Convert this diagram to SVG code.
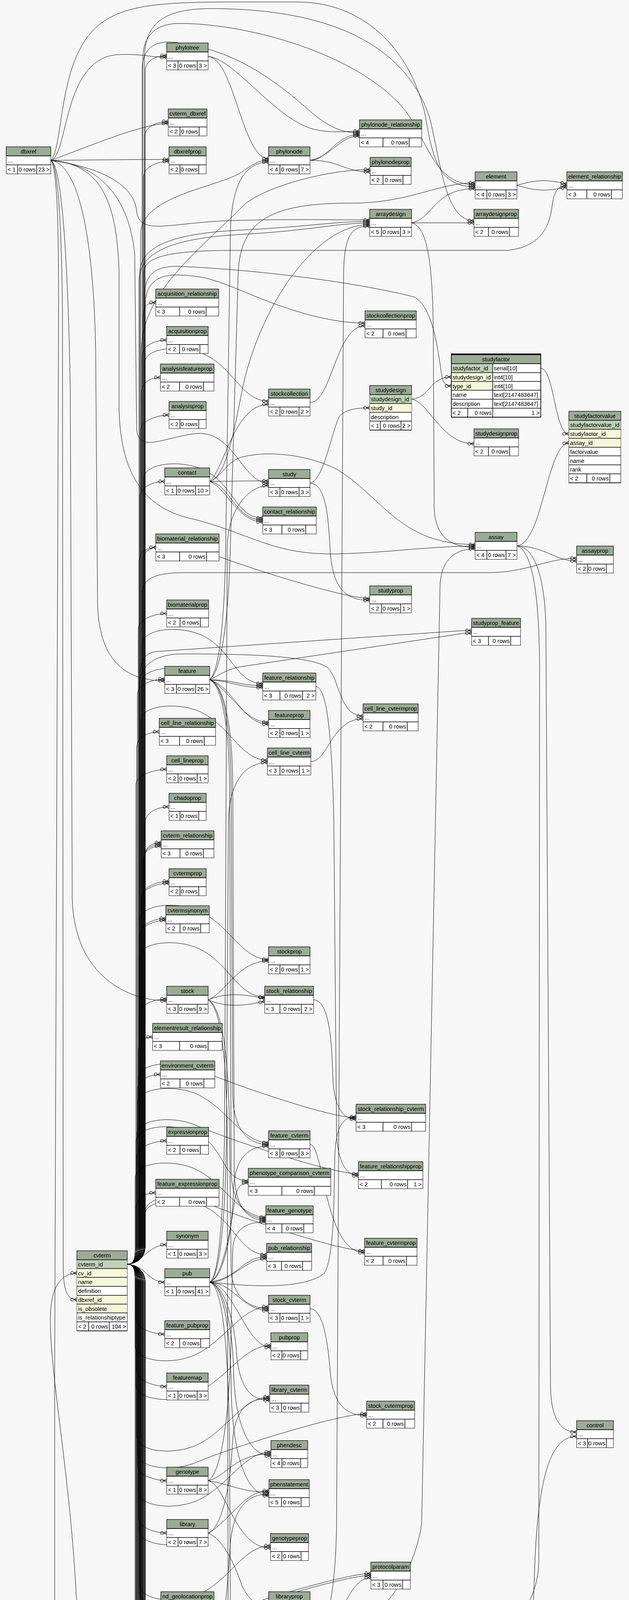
<svg xmlns="http://www.w3.org/2000/svg" width="1611" height="6103" viewBox="0 0 1611 6103">
<defs>
<style>
text{font-family:"Liberation Sans",Arial,Helvetica,sans-serif;font-size:14.67px;fill:#000}
.c{text-anchor:middle}
.r{text-anchor:end}
.w{fill:#fff;stroke:#000;stroke-width:1}
.h{fill:#9bab96;stroke:#000;stroke-width:1}
.pk{fill:#bed1b8}
.fk{fill:#f4f7da}
.t path{fill:none;stroke:#000;stroke-width:1.5}
.e path{fill:none;stroke:#000;stroke-width:1;marker-end:url(#cf)}
</style>
<marker id="cf" markerUnits="userSpaceOnUse" markerWidth="18" markerHeight="12" viewBox="0 0 18 12" refX="17" refY="6" orient="auto">
<circle cx="5" cy="6" r="3.8" fill="none" stroke="#000" stroke-width="1.2"/>
<path d="M9 6L17 1.5M9 6L17 6M9 6L17 10.5" fill="none" stroke="#000" stroke-width="1.2"/>
</marker>
</defs>
<rect width="1611" height="6103" fill="#f7f7f7"/>
<g id="connectors" class="e">
<path d="M326 3236C342 3236 372 3226 372 3190L372 182C372 154 402 142 427 142"/>
<path d="M326 3236C342 3236 370 3226 370 3190L370 351C370 323 406 311 431 311"/>
<path d="M326 3236C342 3236 368 3226 368 3190L368 453C368 425 408 413 433 413"/>
<path d="M326 3236C342 3236 366 3226 366 3190L366 814.5C366 786.5 374 774.5 399 774.5"/>
<path d="M326 3236C342 3236 364 3226 364 3190L364 910.5C364 882.5 402 870.5 427 870.5"/>
<path d="M326 3236C342 3236 362 3226 362 3190L362 1006.5C362 978.5 386 966.5 411 966.5"/>
<path d="M326 3236C342 3236 360 3226 360 3190L360 1102.5C360 1074.5 408 1062.5 433 1062.5"/>
<path d="M326 3236C342 3236 358 3226 358 3190L358 1272.5C358 1244.5 397 1232.5 422 1232.5"/>
<path d="M326 3236C342 3236 356 3226 356 3190L356 1441.5C356 1413.5 374 1401.5 399 1401.5"/>
<path d="M326 3236C342 3236 354 3226 354 3190L354 1610.5C354 1582.5 402 1570.5 427 1570.5"/>
<path d="M326 3236C342 3236 352 3226 352 3190L352 1778C352 1750 397 1738 422 1738"/>
<path d="M326 3236C342 3236 350 3226 350 3190L350 1913.5C350 1885.5 383 1873.5 408 1873.5"/>
<path d="M326 3236C342 3236 348 3226 348 3190L348 2009.5C348 1981.5 402 1969.5 427 1969.5"/>
<path d="M326 3236C342 3236 372 3226 372 3190L372 2105.5C372 2077.5 408 2065.5 433 2065.5"/>
<path d="M326 3236C342 3236 370 3226 370 3190L370 2197C370 2169 388 2157 413 2157"/>
<path d="M326 3236C342 3236 368 3226 368 3190L368 2201.5C368 2173.5 388 2161.5 413 2161.5"/>
<path d="M326 3236C342 3236 366 3226 366 3190L366 2206C366 2178 388 2166 413 2166"/>
<path d="M326 3236C342 3236 364 3226 364 3190L364 2296C364 2268 408 2256 433 2256"/>
<path d="M326 3236C342 3236 362 3226 362 3190L362 2301C362 2273 408 2261 433 2261"/>
<path d="M326 3236C342 3236 360 3226 360 3190L360 2391C360 2363 400 2351 425 2351"/>
<path d="M326 3236C342 3236 358 3226 358 3190L358 2396C358 2368 400 2356 425 2356"/>
<path d="M326 3236C342 3236 356 3226 356 3190L356 2597C356 2569 402 2557 427 2557"/>
<path d="M326 3236C342 3236 354 3226 354 3190L354 2694.5C354 2666.5 366 2654.5 391 2654.5"/>
<path d="M326 3236C342 3236 352 3226 352 3190L352 2790.5C352 2762.5 386 2750.5 411 2750.5"/>
<path d="M326 3236C342 3236 350 3226 350 3190L350 2960.5C350 2932.5 402 2920.5 427 2920.5"/>
<path d="M326 3236C342 3236 348 3226 348 3190L348 3093.5C348 3065.5 374 3053.5 399 3053.5"/>
<path d="M326 3236C360 3236 380 3186.5 427 3186.5"/>
<path d="M326 3237C370 3237 380 3282.5 422 3282.5"/>
<path d="M326 3237C342 3237 348 3247 348 3283L348 3375.5C348 3403.5 397 3415.5 422 3415.5"/>
<path d="M326 3237C342 3237 350 3247 350 3283L350 3509.5C350 3537.5 402 3549.5 427 3549.5"/>
<path d="M326 3237C342 3237 352 3247 352 3283L352 3750.5C352 3778.5 402 3790.5 427 3790.5"/>
<path d="M326 3237C342 3237 354 3247 354 3283L354 3884.5C354 3912.5 402 3924.5 427 3924.5"/>
<path d="M326 3237C342 3237 356 3247 356 3283L356 4069.5C356 4097.5 387 4109.5 412 4109.5"/>
<path d="M326 3237C342 3237 358 3247 358 3283L358 4196C358 4224 402 4236 427 4236"/>
<path d="M326 3237C342 3237 360 3247 360 3283L360 4201C360 4229 402 4241 427 4241"/>
<path d="M326 3237C342 3237 362 3247 362 3283L362 4211C362 4239 402 4251 427 4251"/>
<path d="M326 3237C342 3237 364 3247 364 3283L364 4408.5C364 4436.5 408 4448.5 433 4448.5"/>
<path d="M326 3237C342 3237 366 3247 366 3283L366 4574C366 4602 389 4614 414 4614"/>
<path d="M326 3237C342 3237 368 3247 368 3283L368 4581C368 4609 389 4621 414 4621"/>
<path d="M326 3237C342 3237 370 3247 370 3283L370 4890.5C370 4918.5 402 4930.5 427 4930.5"/>
<path d="M326 3237C342 3237 372 3247 372 3283L372 4986.5C372 5014.5 388 5026.5 413 5026.5"/>
<path d="M326 3237C342 3237 348 3247 348 3283L348 5082.5C348 5110.5 408 5122.5 433 5122.5"/>
<path d="M326 3237C342 3237 350 3247 350 3283L350 5216.5C350 5244.5 402 5256.5 427 5256.5"/>
<path d="M326 3237C342 3237 352 3247 352 3283L352 5349.5C352 5377.5 367 5389.5 392 5389.5"/>
<path d="M326 3237C342 3237 354 3247 354 3283L354 5445.5C354 5473.5 394 5485.5 419 5485.5"/>
<path d="M326 3237C342 3237 356 3247 356 3283L356 5578.5C356 5606.5 402 5618.5 427 5618.5"/>
<path d="M326 3237C342 3237 358 3247 358 3283L358 5674.5C358 5702.5 395 5714.5 420 5714.5"/>
<path d="M326 3237C342 3237 360 3247 360 3283L360 5873C360 5901 408 5913 433 5913"/>
<path d="M326 3237C342 3237 362 3247 362 3283L362 5877C362 5905 408 5917 433 5917"/>
<path d="M326 3237C342 3237 364 3247 364 3283L364 5885C364 5913 408 5925 433 5925"/>
<path d="M326 3237C342 3237 366 3247 366 3283L366 5974C366 6002 408 6014 433 6014"/>
<path d="M326 3236C342 3236 360 3226 360 3190L360 600C360 500 560 480 620 440C650 420 660 410.5 688 410.5"/>
<path d="M326 3236C342 3236 364 3226 364 3190L364 180C364 120 400 100 460 110C600 130 700 200 800 290C850 330 880 340 921 340"/>
<path d="M326 3236C342 3236 362 3226 362 3190L362 900C362 750 500 650 630 520C700 470 850 434 948 434"/>
<path d="M326 3236C342 3236 366 3226 366 3190L366 150C366 90 400 60 460 60C650 60 950 150 1050 300C1100 380 1120 473 1217 473"/>
<path d="M326 3236C342 3236 368 3226 368 3190L368 700C368 660 420 641 600 641L1300 641C1400 630 1410 560 1415 520C1420 490 1430 475 1452 475"/>
<path d="M326 3236C342 3236 358 3226 358 3190L358 700C358 640 420 600 600 590C800 580 850 567 947 567"/>
<path d="M326 3236C342 3236 356 3226 356 3190L356 720C356 650 430 610 620 600C800 590 860 571 947 571"/>
<path d="M326 3236C342 3236 370 3226 370 3190L370 150C370 60 420 22 540 22C900 22 1050 150 1100 300C1130 420 1140 565 1214 565"/>
<path d="M326 3236C342 3236 372 3226 372 3190L372 780C372 730 400 704 450 704C520 704 560 720 620 745C750 800 850 827 935 827"/>
<path d="M326 3236C342 3236 370 3226 370 3190L370 760C370 700 400 680 460 682C650 690 900 720 1060 760C1120 790 1125 950 1135 975C1140 985 1148 988 1156 988"/>
<path d="M326 3236C342 3236 364 3226 364 3190L364 1520C364 1480 400 1465 480 1466L1250 1466C1350 1466 1400 1429 1477 1429"/>
<path d="M326 3236C342 3236 358 3226 358 3190L358 1740C358 1690 370 1672 400 1668L1190 1614L1208 1614"/>
<path d="M326 3236C342 3236 356 3226 356 3190L356 1760C356 1700 400 1674 470 1674C650 1674 800 1680 840 1710C870 1740 870 1833 930 1833"/>
<path d="M326 3236C342 3236 370 3226 370 3190L370 930.5C370 890.5 460 880.5 520 905.5C600 940.5 618 1027 688 1027"/>
<path d="M326 3236C342 3236 368 3226 368 3190L368 1226C368 1186 458 1176 518 1201C598 1236 603 1326 673 1326"/>
<path d="M326 3236C342 3236 366 3226 366 3190L366 1432C366 1392 456 1382 516 1407C596 1442 877 1532 947 1532"/>
<path d="M326 3236C342 3236 364 3226 364 3190L364 1650C364 1610 454 1600 514 1625C594 1660 603 1750 673 1750"/>
<path d="M326 3236C342 3236 362 3226 362 3190L362 1749C362 1709 452 1699 512 1724C592 1759 618 1849 688 1849"/>
<path d="M326 3236C342 3236 360 3226 360 3190L360 1846C360 1806 450 1796 510 1821C590 1856 615 1946 685 1946"/>
<path d="M326 3236C342 3236 358 3226 358 3190L358 2356C358 2316 448 2306 508 2331C588 2366 618 2456 688 2456"/>
<path d="M326 3236C342 3236 356 3226 356 3190L356 2452C356 2412 446 2402 506 2427C586 2462 608 2552 678 2552"/>
<path d="M326 3236C342 3236 354 3226 354 3190L354 2761.5C354 2721.5 444 2711.5 504 2736.5C584 2771.5 842 2861.5 912 2861.5"/>
<path d="M326 3236C342 3236 352 3226 352 3190L352 2825C352 2785 442 2775 502 2800C582 2835 618 2925 688 2925"/>
<path d="M326 3236C342 3236 350 3226 350 3190L350 2905C350 2865 440 2855 500 2880C580 2915 848 3005 918 3005"/>
<path d="M326 3236C342 3236 348 3226 348 3190L348 2923C348 2883 438 2873 498 2898C578 2933 566 3023 636 3023"/>
<path d="M326 3236C342 3236 346 3226 346 3190L346 3016C346 2976 436 2966 496 2991C576 3026 611 3116 681 3116"/>
<path d="M326 3236C342 3236 372 3226 372 3190L372 3102C372 3062 462 3052 522 3077C602 3112 864 3202 934 3202"/>
<path d="M326 3236C342 3236 370 3226 370 3190L370 3112C370 3072 460 3062 520 3087C600 3122 613 3212 683 3212"/>
<path d="M326 3237C342 3237 346 3247 346 3283L346 3445C346 3485 436 3495 496 3470C576 3435 618 3345 688 3345"/>
<path d="M326 3237C342 3237 348 3247 348 3283L348 3544C348 3584 438 3594 498 3569C578 3534 624 3444 694 3444"/>
<path d="M326 3237C342 3237 350 3247 350 3283L350 3676C350 3716 440 3726 500 3701C580 3666 621 3576 691 3576"/>
<path d="M326 3237C342 3237 352 3247 352 3283L352 3719C352 3759 442 3769 502 3744C582 3709 869 3619 939 3619"/>
<path d="M326 3237C342 3237 354 3247 354 3283L354 3817C354 3857 444 3867 504 3842C584 3807 624 3717 694 3717"/>
<path d="M326 3237C342 3237 356 3247 356 3283L356 3916C356 3956 446 3966 506 3941C586 3906 619 3816 689 3816"/>
<path d="M326 3237C342 3237 358 3247 358 3283L358 4057C358 4097 448 4107 508 4082C588 4047 623 3957 693 3957"/>
<path d="M326 3237C342 3237 360 3247 360 3283L360 4128C360 4168 450 4178 510 4153C590 4118 880 4028 950 4028"/>
<path d="M326 3237C342 3237 362 3247 362 3283L362 4133C362 4173 452 4183 512 4158C592 4123 880 4033 950 4033"/>
<path d="M326 3237C342 3237 364 3247 364 3283L364 4206C364 4246 454 4256 514 4231C594 4196 618 4106 688 4106"/>
<path d="M326 3237C342 3237 366 3247 366 3283L366 4300C366 4340 456 4350 516 4325C596 4290 618 4200 688 4200"/>
<path d="M326 3237C342 3237 368 3247 368 3283L368 4405C368 4445 458 4455 518 4430C598 4395 607 4305 677 4305"/>
<path d="M326 3237C342 3237 370 3247 370 3283L370 4720C370 4760 460 4770 520 4745C600 4710 591 4620 661 4620"/>
<path d="M326 3237C342 3237 372 3247 372 3283L372 4790C372 4830 462 4840 522 4815C602 4780 877 4690 947 4690"/>
<path d="M326 3237C342 3237 346 3247 346 3283L346 4857C346 4897 436 4907 496 4882C576 4847 597 4757 667 4757"/>
<path d="M326 3237C342 3237 348 3247 348 3283L348 4875C348 4915 438 4925 498 4900C578 4865 1126 4775 1196 4775"/>
<path d="M326 3237C342 3237 350 3247 350 3283L350 4891C350 4931 440 4941 500 4916C580 4881 842 4791 912 4791"/>
<path d="M326 3237C342 3237 352 3247 352 3283L352 5127C352 5167 442 5177 502 5152C582 5117 603 5027 673 5027"/>
<path d="M326 3237C342 3237 354 3247 354 3283L354 5321C354 5361 444 5371 504 5346C584 5311 600 5221 670 5221"/>
<path d="M326 3237C342 3237 356 3247 356 3283L356 5419C356 5459 446 5469 506 5444C586 5409 615 5319 685 5319"/>
<path d="M326 3237C342 3237 358 3247 358 3283L358 5712C358 5752 448 5762 508 5737C588 5702 588 5612 658 5612"/>
<path d="M326 3237C342 3237 360 3247 360 3283L360 5848C360 5888 450 5898 510 5873C590 5838 616 5748 686 5748"/>
<path d="M326 3237C342 3237 372 3247 372 3283L372 5780C372 5840 420 5870 500 5868C600 5865 680 5853 760 5853L1000 5853C1200 5853 1290 5700 1320 5300L1370 4000C1380 3750 1420 3677 1477 3677"/>
<path d="M130 410.5C175 400 160 150 300 140C360 137 390 147 427 147"/>
<path d="M130 410.5C190 390 360 316 431 316"/>
<path d="M130 410.5C200 410 360 408 433 408"/>
<path d="M130 410.5C160 380 150 200 220 100C280 15 380 5 600 5L760 5C950 5 1060 150 1090 300C1110 420 1130 478 1217 478"/>
<path d="M130 410.5C200 420 340 450 350 540C356 600 420 575 560 566C700 560 850 563 947 563"/>
<path d="M130 410.5C250 420 330 500 345 650L350 1100C355 1160 420 1120 500 1110C600 1100 620 1237 688 1237"/>
<path d="M130 410.5C250 420 300 500 305 700L305 1050C310 1250 400 1310 500 1330C650 1370 700 1420 860 1418C1000 1415 1100 1398 1217 1398"/>
<path d="M130 410.5C200 420 240 600 245 900L250 1550C255 1700 330 1743 422 1743"/>
<path d="M130 410.5C160 420 175 700 180 1000L185 2300C190 2500 330 2562 427 2562"/>
<path d="M130 410.5C150 420 158 600 160 800L162 3250C163 3310 175 3327 197 3327"/>
<path d="M130 410.5C148 430 150 600 150 800L140 3500L140 4100C140 4300 300 4330 450 4330C560 4330 600 4205 688 4205"/>
<path d="M121 5920C170 5910 205 5750 208 5500L200 4200C190 3800 120 3500 130 3350C135 3290 160 3259 197 3259"/>
<path d="M121 5920L433 5921"/>
<path d="M121 5920C200 5930 280 6000 360 6015C390 6019 410 6019 433 6019"/>
<path d="M533 144.5C600 150 620 406 688 406"/>
<path d="M533 144.5C600 150 700 300 800 330C850 342 880 336 921 336"/>
<path d="M794 410.5C840 410 860 344 921 344"/>
<path d="M794 410.5C850 400 870 348 921 348"/>
<path d="M794 410.5C870 410 880 440 948 440"/>
<path d="M537 1740.5C560 1720 575 1600 578 1400L590 600C592 450 640 415 688 415"/>
<path d="M537 1740.5C565 1720 585 1600 590 1400L610 700C615 560 700 520 900 520C1050 520 1120 468 1217 468"/>
<path d="M537 1740.5C560 1730 580 1712 622 1706L1190 1621L1208 1621"/>
<path d="M537 1740.5C600 1740 610 1755 673 1755"/>
<path d="M537 1740.5C600 1745 610 1760 673 1760"/>
<path d="M537 1740.5C600 1760 620 1854 688 1854"/>
<path d="M537 1740.5C570 1750 590 1850 592 2000L596 2800C598 2900 640 2930 688 2930"/>
<path d="M537 1740.5C568 1752 586 1860 588 2000L592 3000C594 3090 640 3120 681 3120"/>
<path d="M537 1740.5C572 1748 594 1850 596 2000L600 3000C602 3100 640 3124 681 3124"/>
<path d="M537 1232.5C600 1232 620 1231 688 1231"/>
<path d="M537 1232.5C590 1240 600 1331 673 1331"/>
<path d="M537 1232.5C580 1250 610 1336 673 1336"/>
<path d="M537 1232.5C570 1220 580 1180 620 1170C700 1150 800 1170 860 1200C980 1270 1020 1394 1217 1394"/>
<path d="M537 1232.5C580 1220 600 1100 620 1000C660 800 800 575 947 575"/>
<path d="M537 1232.5C575 1200 600 1035 688 1035"/>
<path d="M794 1030.5C850 1030 860 834 935 834"/>
<path d="M1054 1021.5C1100 1020 1100 965 1156 965"/>
<path d="M1054 1021.5C1100 1030 1130 1136 1214 1136"/>
<path d="M794 1236.5C830 1230 850 1100 870 1065C885 1048 915 1044 947 1044"/>
<path d="M794 1236.5C830 1240 840 1300 845 1400C850 1500 880 1537 947 1537"/>
<path d="M1385 942.5C1420 945 1420 1110.5 1457 1110.5"/>
<path d="M1324 1397.5C1390 1390 1400 1140 1457 1133.5"/>
<path d="M1324 1397.5C1400 1400 1420 1436 1477 1436"/>
<path d="M1324 1397.5C1370 1400 1395 1480 1398 1600L1410 3550C1412 3640 1440 3666 1477 3666"/>
<path d="M1324 1397.5C1360 1410 1380 1500 1382 1700L1380 4000C1375 4150 1250 4255 1000 4255L620 4258C560 4262 550 4360 470 4360C400 4360 400 4246 427 4246"/>
<path d="M1054 570.5C1110 560 1110 483 1217 483"/>
<path d="M1054 570.5L1214 570.5"/>
<path d="M1054 570.5C1100 580 1110 700 1110 900L1112 1300C1115 1380 1160 1401 1217 1401"/>
<path d="M794 4205.5C900 4205 1050 4100 1080 3900L1127 1500C1130 1420 1180 1405 1217 1405"/>
<path d="M794 4205.5C830 4200 860 4100 862 3900L880 700C882 600 900 579 947 579"/>
<path d="M794 4205.5C870 4205 880 4039 950 4039"/>
<path d="M794 4205.5C830 4210 850 4300 860 4500C865 4650 900 4697 947 4697"/>
<path d="M1054 4693.5C1100 4700 1110 4781 1196 4781"/>
<path d="M809 1757.5C840 1760 850 1900 855 2100L862 2900C865 2980 890 3010 918 3010"/>
<path d="M796 1949.5C840 1950 850 1840 930 1840"/>
<path d="M794 2929.5C830 2930 830 3207 934 3207"/>
<path d="M533 2559.5C580 2540 630 2545 678 2557"/>
<path d="M533 2559.5C580 2580 630 2575 678 2563"/>
<path d="M533 2559.5C580 2540 610 2460 688 2460"/>
<path d="M533 2559.5C570 2580 585 2700 588 2900L592 3250C594 3320 640 3350 688 3350"/>
<path d="M533 2559.5C565 2580 580 2700 582 2900L585 4600C587 4700 620 4766 667 4766"/>
<path d="M803 2559.5C840 2560 850 2650 852 2750C855 2840 880 2865 912 2865"/>
<path d="M794 3350.5C830 3350 840 3450 845 3500C850 3600 890 3624 939 3624"/>
<path d="M537 3282.5C600 3282 620 3217 683 3217"/>
<path d="M537 3282.5C610 3270 630 3222 683 3222"/>
<path d="M537 3282.5C600 3290 630 3449 694 3449"/>
<path d="M537 3282.5C600 3285 620 3355 688 3355"/>
<path d="M537 3282.5C580 3290 600 3400 605 3450C610 3550 640 3585 691 3585"/>
<path d="M537 3282.5C575 3290 595 3400 598 3500C600 3650 640 3727 694 3727"/>
<path d="M537 3282.5C572 3290 590 3400 592 3550C595 3750 640 3829 689 3829"/>
<path d="M537 3282.5C570 3290 585 3450 588 3700L590 4100C592 4180 640 4210 688 4210"/>
<path d="M537 3282.5C575 3270 595 3150 598 3050C600 2960 640 2934 688 2934"/>
<path d="M537 3282.5C570 3270 590 3150 600 3080C606 3040 615 3028 636 3028"/>
<path d="M537 3282.5C650 3295 780 3300 830 3260C860 3220 855 3000 858 2950C862 2880 880 2859 912 2859"/>
<path d="M537 3282.5C565 3270 578 3100 580 2900L585 2100C587 2000 630 1952 685 1952"/>
<path d="M537 3282.5C562 3270 572 3100 575 2900L582 1400C584 1300 640 1243 688 1243"/>
<path d="M533 3790.5C580 3780 600 3722 694 3722"/>
<path d="M533 3790.5C590 3800 620 3820 689 3820"/>
<path d="M533 3790.5C570 3770 590 3600 592 3400L596 3200C598 3140 640 3128 681 3128"/>
<path d="M533 3790.5C580 3800 600 3963 693 3963"/>
<path d="M533 4242.5C570 4240 580 4100 590 3950C600 3850 640 3825 689 3825"/>
<path d="M533 4242.5C580 4245 610 4311 677 4311"/>
<path d="M533 3924.5C570 3910 590 3800 595 3700C600 3600 640 3580 691 3580"/>
<path d="M533 3924.5C570 3940 600 4000 620 4060C640 4100 660 4112 688 4112"/>
<path d="M545 4617.5C600 4618 610 4626 661 4626"/>
<path d="M533 4930.5C570 4900 590 4800 610 4775C630 4762 645 4762 667 4762"/>
<path d="M533 4930.5C570 4940 600 5000 620 5020C640 5030 650 5032 673 5032"/>
<path d="M814 4761.5C850 4765 860 4796 912 4796"/>
<path d="M533 5256.5C580 5250 610 5226 670 5226"/>
<path d="M533 5256.5C580 5265 610 5324 685 5324"/>
<path d="M533 5618.5C580 5600 620 5605 658 5617"/>
<path d="M533 5618.5C580 5635 620 5630 658 5622"/>
<path d="M533 5618.5C580 5640 620 5753 686 5753"/>
<path d="M533 5618.5C570 5600 590 5500 595 5400C600 5300 630 5231 670 5231"/>
<path d="M1324 474.5C1380 458 1400 460 1452 471"/>
<path d="M1324 474.5C1380 491 1400 489 1452 479"/>
</g>
<g id="dbxref" class="t" transform="translate(16 376)"><rect class="w" width="114" height="69"/><rect class="h" width="114" height="23"/><path d="M0 23H114M0 46H114M29 46V69M78 46V69"/><text class="c" x="57" y="17">dbxref</text><text x="4" y="40">...</text><text x="3" y="63">&lt; 1</text><text class="r" x="75" y="63">0 rows</text><text class="r" x="111" y="63">23 &gt;</text></g>
<g id="phylotree" class="t" transform="translate(427 110)"><rect class="w" width="106" height="69"/><rect class="h" width="106" height="23"/><path d="M0 23H106M0 46H106M29 46V69M78 46V69"/><text class="c" x="53" y="17">phylotree</text><text x="4" y="40">...</text><text x="3" y="63">&lt; 3</text><text class="r" x="75" y="63">0 rows</text><text class="r" x="103" y="63">3 &gt;</text></g>
<g id="cvterm_dbxref" class="t" transform="translate(431 279)"><rect class="w" width="99" height="69"/><rect class="h" width="99" height="23"/><path d="M0 23H99M0 46H99M30 46V69M79 46V69"/><text class="c" x="49.5" y="17">cvterm_dbxref</text><text x="4" y="40">...</text><text x="3" y="63">&lt; 2</text><text class="r" x="76" y="63">0 rows</text></g>
<g id="dbxrefprop" class="t" transform="translate(433 376)"><rect class="w" width="95" height="69"/><rect class="h" width="95" height="23"/><path d="M0 23H95M0 46H95M28 46V69M76 46V69"/><text class="c" x="47.5" y="17">dbxrefprop</text><text x="4" y="40">...</text><text x="3" y="63">&lt; 2</text><text class="r" x="73" y="63">0 rows</text></g>
<g id="phylonode" class="t" transform="translate(688 376)"><rect class="w" width="106" height="69"/><rect class="h" width="106" height="23"/><path d="M0 23H106M0 46H106M29 46V69M78 46V69"/><text class="c" x="53" y="17">phylonode</text><text x="4" y="40">...</text><text x="3" y="63">&lt; 4</text><text class="r" x="75" y="63">0 rows</text><text class="r" x="103" y="63">7 &gt;</text></g>
<g id="phylonode_relationship" class="t" transform="translate(921 307)"><rect class="w" width="159" height="69"/><rect class="h" width="159" height="23"/><path d="M0 23H159M0 46H159M60 46V69M127 46V69"/><text class="c" x="79.5" y="17">phylonode_relationship</text><text x="4" y="40">...</text><text x="3" y="63">&lt; 4</text><text class="r" x="124" y="63">0 rows</text></g>
<g id="phylonodeprop" class="t" transform="translate(948 403)"><rect class="w" width="105" height="69"/><rect class="h" width="105" height="23"/><path d="M0 23H105M0 46H105M33 46V69M84 46V69"/><text class="c" x="52.5" y="17">phylonodeprop</text><text x="4" y="40">...</text><text x="3" y="63">&lt; 2</text><text class="r" x="81" y="63">0 rows</text></g>
<g id="element" class="t" transform="translate(1217 440)"><rect class="w" width="107" height="69"/><rect class="h" width="107" height="23"/><path d="M0 23H107M0 46H107M30 46V69M79 46V69"/><text class="c" x="53.5" y="17">element</text><text x="4" y="40">...</text><text x="3" y="63">&lt; 4</text><text class="r" x="76" y="63">0 rows</text><text class="r" x="104" y="63">3 &gt;</text></g>
<g id="element_relationship" class="t" transform="translate(1452 440)"><rect class="w" width="142" height="69"/><rect class="h" width="142" height="23"/><path d="M0 23H142M0 46H142M51 46V69M114 46V69"/><text class="c" x="71" y="17">element_relationship</text><text x="4" y="40">...</text><text x="3" y="63">&lt; 3</text><text class="r" x="111" y="63">0 rows</text></g>
<g id="arraydesign" class="t" transform="translate(947 536)"><rect class="w" width="107" height="69"/><rect class="h" width="107" height="23"/><path d="M0 23H107M0 46H107M30 46V69M79 46V69"/><text class="c" x="53.5" y="17">arraydesign</text><text x="4" y="40">...</text><text x="3" y="63">&lt; 5</text><text class="r" x="76" y="63">0 rows</text><text class="r" x="104" y="63">3 &gt;</text></g>
<g id="arraydesignprop" class="t" transform="translate(1214 536)"><rect class="w" width="114" height="69"/><rect class="h" width="114" height="23"/><path d="M0 23H114M0 46H114M37 46V69M91 46V69"/><text class="c" x="57" y="17">arraydesignprop</text><text x="4" y="40">...</text><text x="3" y="63">&lt; 2</text><text class="r" x="88" y="63">0 rows</text></g>
<g id="acquisition_relationship" class="t" transform="translate(399 740)"><rect class="w" width="161" height="69"/><rect class="h" width="161" height="23"/><path d="M0 23H161M0 46H161M61 46V69M129 46V69"/><text class="c" x="80.5" y="17">acquisition_relationship</text><text x="4" y="40">...</text><text x="3" y="63">&lt; 3</text><text class="r" x="126" y="63">0 rows</text></g>
<g id="stockcollectionprop" class="t" transform="translate(935 796)"><rect class="w" width="131" height="69"/><rect class="h" width="131" height="23"/><path d="M0 23H131M0 46H131M46 46V69M105 46V69"/><text class="c" x="65.5" y="17">stockcollectionprop</text><text x="4" y="40">...</text><text x="3" y="63">&lt; 2</text><text class="r" x="102" y="63">0 rows</text></g>
<g id="acquisitionprop" class="t" transform="translate(427 836)"><rect class="w" width="106" height="69"/><rect class="h" width="106" height="23"/><path d="M0 23H106M0 46H106M33 46V69M85 46V69"/><text class="c" x="53" y="17">acquisitionprop</text><text x="4" y="40">...</text><text x="3" y="63">&lt; 2</text><text class="r" x="82" y="63">0 rows</text></g>
<g id="analysisfeatureprop" class="t" transform="translate(411 932)"><rect class="w" width="137" height="69"/><rect class="h" width="137" height="23"/><path d="M0 23H137M0 46H137M49 46V69M110 46V69"/><text class="c" x="68.5" y="17">analysisfeatureprop</text><text x="4" y="40">...</text><text x="3" y="63">&lt; 2</text><text class="r" x="107" y="63">0 rows</text></g>
<g id="studyfactor" class="t" transform="translate(1156 906)"><rect class="w" width="229" height="162" stroke-width="2"/><rect class="h" width="229" height="25"/><rect class="pk" x="0.5" y="25" width="105.5" height="23"/><rect class="fk" x="0.5" y="48" width="105.5" height="45"/><path d="M0 25H229M0 48H229M0 70.5H229M0 93H229M0 116H229M0 139H229M106 25V139M42 139V162M106 139V162M0 162H229"/><path d="M0 1.5H229" style="stroke-width:3"/><rect width="229" height="162" fill="none" stroke="#000" stroke-width="1.5"/><text class="c" x="114.5" y="19">studyfactor</text><text x="3" y="42">studyfactor_id</text><text x="109" y="42">serial[10]</text><text x="3" y="65">studydesign_id</text><text x="109" y="65">int4[10]</text><text x="3" y="87.5">type_id</text><text x="109" y="87.5">int4[10]</text><text x="3" y="110">name</text><text x="109" y="110">text[2147483647]</text><text x="3" y="133">description</text><text x="109" y="133">text[2147483647]</text><text x="3" y="156">&lt; 2</text><text class="r" x="103" y="156">0 rows</text><text class="r" x="226" y="156">1 &gt;</text></g>
<g id="stockcollection" class="t" transform="translate(688 996)"><rect class="w" width="106" height="69"/><rect class="h" width="106" height="23"/><path d="M0 23H106M0 46H106M29 46V69M78 46V69"/><text class="c" x="53" y="17">stockcollection</text><text x="4" y="40">...</text><text x="3" y="63">&lt; 2</text><text class="r" x="75" y="63">0 rows</text><text class="r" x="103" y="63">2 &gt;</text></g>
<g id="studydesign" class="t" transform="translate(947 987)"><rect class="w" width="107" height="114"/><rect class="h" width="107" height="23"/><rect class="pk" x="0.5" y="23" width="106" height="23"/><rect class="fk" x="0.5" y="46" width="106" height="22.5"/><path d="M0 23H107M0 46H107M0 68.5H107M0 91H107M27 91V114M80 91V114M0 114H107"/><text class="c" x="53.5" y="17">studydesign</text><text x="3" y="40">studydesign_id</text><text x="3" y="63">study_id</text><text x="3" y="85.5">description</text><text x="3" y="108">&lt; 1</text><text class="r" x="77" y="108">0 rows</text><text class="r" x="104" y="108">2 &gt;</text></g>
<g id="analysisprop" class="t" transform="translate(433 1028)"><rect class="w" width="95" height="69"/><rect class="h" width="95" height="23"/><path d="M0 23H95M0 46H95M28 46V69M76 46V69"/><text class="c" x="47.5" y="17">analysisprop</text><text x="4" y="40">...</text><text x="3" y="63">&lt; 2</text><text class="r" x="73" y="63">0 rows</text></g>
<g id="studyfactorvalue" class="t" transform="translate(1457 1053)"><rect class="w" width="133" height="183"/><rect class="h" width="133" height="23"/><rect class="pk" x="0.5" y="23" width="132" height="23"/><rect class="fk" x="0.5" y="46" width="132" height="46"/><path d="M0 23H133M0 46H133M0 69H133M0 92H133M0 114H133M0 137H133M0 160H133M46 160V183M105 160V183M0 183H133"/><text class="c" x="66.5" y="17">studyfactorvalue</text><text x="3" y="40">studyfactorvalue_id</text><text x="3" y="63">studyfactor_id</text><text x="3" y="86">assay_id</text><text x="3" y="108.5">factorvalue</text><text x="3" y="131.5">name</text><text x="3" y="154">rank</text><text x="3" y="177">&lt; 2</text><text class="r" x="102" y="177">0 rows</text></g>
<g id="studydesignprop" class="t" transform="translate(1214 1098)"><rect class="w" width="114" height="69"/><rect class="h" width="114" height="23"/><path d="M0 23H114M0 46H114M37 46V69M91 46V69"/><text class="c" x="57" y="17">studydesignprop</text><text x="4" y="40">...</text><text x="3" y="63">&lt; 2</text><text class="r" x="88" y="63">0 rows</text></g>
<g id="contact" class="t" transform="translate(422 1198)"><rect class="w" width="115" height="69"/><rect class="h" width="115" height="23"/><path d="M0 23H115M0 46H115M30 46V69M79 46V69"/><text class="c" x="57.5" y="17">contact</text><text x="4" y="40">...</text><text x="3" y="63">&lt; 1</text><text class="r" x="76" y="63">0 rows</text><text class="r" x="112" y="63">10 &gt;</text></g>
<g id="study" class="t" transform="translate(688 1202)"><rect class="w" width="106" height="69"/><rect class="h" width="106" height="23"/><path d="M0 23H106M0 46H106M29 46V69M78 46V69"/><text class="c" x="53" y="17">study</text><text x="4" y="40">...</text><text x="3" y="63">&lt; 3</text><text class="r" x="75" y="63">0 rows</text><text class="r" x="103" y="63">3 &gt;</text></g>
<g id="contact_relationship" class="t" transform="translate(673 1298)"><rect class="w" width="137" height="69"/><rect class="h" width="137" height="23"/><path d="M0 23H137M0 46H137M49 46V69M110 46V69"/><text class="c" x="68.5" y="17">contact_relationship</text><text x="4" y="40">...</text><text x="3" y="63">&lt; 3</text><text class="r" x="107" y="63">0 rows</text></g>
<g id="assay" class="t" transform="translate(1217 1363)"><rect class="w" width="107" height="69"/><rect class="h" width="107" height="23"/><path d="M0 23H107M0 46H107M30 46V69M79 46V69"/><text class="c" x="53.5" y="17">assay</text><text x="4" y="40">...</text><text x="3" y="63">&lt; 4</text><text class="r" x="76" y="63">0 rows</text><text class="r" x="104" y="63">7 &gt;</text></g>
<g id="biomaterial_relationship" class="t" transform="translate(399 1367)"><rect class="w" width="162" height="69"/><rect class="h" width="162" height="23"/><path d="M0 23H162M0 46H162M61 46V69M130 46V69"/><text class="c" x="81" y="17">biomaterial_relationship</text><text x="4" y="40">...</text><text x="3" y="63">&lt; 3</text><text class="r" x="127" y="63">0 rows</text></g>
<g id="assayprop" class="t" transform="translate(1477 1398)"><rect class="w" width="94" height="69"/><rect class="h" width="94" height="23"/><path d="M0 23H94M0 46H94M28 46V69M76 46V69"/><text class="c" x="47" y="17">assayprop</text><text x="4" y="40">...</text><text x="3" y="63">&lt; 2</text><text class="r" x="73" y="63">0 rows</text></g>
<g id="studyprop" class="t" transform="translate(947 1500)"><rect class="w" width="107" height="69"/><rect class="h" width="107" height="23"/><path d="M0 23H107M0 46H107M30 46V69M79 46V69"/><text class="c" x="53.5" y="17">studyprop</text><text x="4" y="40">...</text><text x="3" y="63">&lt; 2</text><text class="r" x="76" y="63">0 rows</text><text class="r" x="104" y="63">1 &gt;</text></g>
<g id="biomaterialprop" class="t" transform="translate(427 1536)"><rect class="w" width="107" height="69"/><rect class="h" width="107" height="23"/><path d="M0 23H107M0 46H107M34 46V69M86 46V69"/><text class="c" x="53.5" y="17">biomaterialprop</text><text x="4" y="40">...</text><text x="3" y="63">&lt; 2</text><text class="r" x="83" y="63">0 rows</text></g>
<g id="studyprop_feature" class="t" transform="translate(1208 1583)"><rect class="w" width="125" height="69"/><rect class="h" width="125" height="23"/><path d="M0 23H125M0 46H125M43 46V69M100 46V69"/><text class="c" x="62.5" y="17">studyprop_feature</text><text x="4" y="40">...</text><text x="3" y="63">&lt; 3</text><text class="r" x="97" y="63">0 rows</text></g>
<g id="feature" class="t" transform="translate(422 1706)"><rect class="w" width="115" height="69"/><rect class="h" width="115" height="23"/><path d="M0 23H115M0 46H115M30 46V69M79 46V69"/><text class="c" x="57.5" y="17">feature</text><text x="4" y="40">...</text><text x="3" y="63">&lt; 3</text><text class="r" x="76" y="63">0 rows</text><text class="r" x="112" y="63">26 &gt;</text></g>
<g id="feature_relationship" class="t" transform="translate(673 1723)"><rect class="w" width="136" height="69"/><rect class="h" width="136" height="23"/><path d="M0 23H136M0 46H136M44 46V69M102 46V69"/><text class="c" x="68" y="17">feature_relationship</text><text x="4" y="40">...</text><text x="3" y="63">&lt; 3</text><text class="r" x="99" y="63">0 rows</text><text class="r" x="133" y="63">2 &gt;</text></g>
<g id="cell_line_cvtermprop" class="t" transform="translate(930 1802)"><rect class="w" width="141" height="69"/><rect class="h" width="141" height="23"/><path d="M0 23H141M0 46H141M51 46V69M113 46V69"/><text class="c" x="70.5" y="17">cell_line_cvtermprop</text><text x="4" y="40">...</text><text x="3" y="63">&lt; 2</text><text class="r" x="110" y="63">0 rows</text></g>
<g id="featureprop" class="t" transform="translate(688 1819)"><rect class="w" width="106" height="69"/><rect class="h" width="106" height="23"/><path d="M0 23H106M0 46H106M29 46V69M78 46V69"/><text class="c" x="53" y="17">featureprop</text><text x="4" y="40">...</text><text x="3" y="63">&lt; 2</text><text class="r" x="75" y="63">0 rows</text><text class="r" x="103" y="63">1 &gt;</text></g>
<g id="cell_line_relationship" class="t" transform="translate(408 1839)"><rect class="w" width="144" height="69"/><rect class="h" width="144" height="23"/><path d="M0 23H144M0 46H144M52 46V69M115 46V69"/><text class="c" x="72" y="17">cell_line_relationship</text><text x="4" y="40">...</text><text x="3" y="63">&lt; 3</text><text class="r" x="112" y="63">0 rows</text></g>
<g id="cell_line_cvterm" class="t" transform="translate(685 1915)"><rect class="w" width="111" height="69"/><rect class="h" width="111" height="23"/><path d="M0 23H111M0 46H111M32 46V69M82 46V69"/><text class="c" x="55.5" y="17">cell_line_cvterm</text><text x="4" y="40">...</text><text x="3" y="63">&lt; 3</text><text class="r" x="79" y="63">0 rows</text><text class="r" x="108" y="63">1 &gt;</text></g>
<g id="cell_lineprop" class="t" transform="translate(427 1935)"><rect class="w" width="106" height="69"/><rect class="h" width="106" height="23"/><path d="M0 23H106M0 46H106M29 46V69M78 46V69"/><text class="c" x="53" y="17">cell_lineprop</text><text x="4" y="40">...</text><text x="3" y="63">&lt; 2</text><text class="r" x="75" y="63">0 rows</text><text class="r" x="103" y="63">1 &gt;</text></g>
<g id="chadoprop" class="t" transform="translate(433 2031)"><rect class="w" width="95" height="69"/><rect class="h" width="95" height="23"/><path d="M0 23H95M0 46H95M28 46V69M76 46V69"/><text class="c" x="47.5" y="17">chadoprop</text><text x="4" y="40">...</text><text x="3" y="63">&lt; 1</text><text class="r" x="73" y="63">0 rows</text></g>
<g id="cvterm_relationship" class="t" transform="translate(413 2127)"><rect class="w" width="135" height="69"/><rect class="h" width="135" height="23"/><path d="M0 23H135M0 46H135M48 46V69M108 46V69"/><text class="c" x="67.5" y="17">cvterm_relationship</text><text x="4" y="40">...</text><text x="3" y="63">&lt; 3</text><text class="r" x="105" y="63">0 rows</text></g>
<g id="cvtermprop" class="t" transform="translate(433 2224)"><rect class="w" width="95" height="69"/><rect class="h" width="95" height="23"/><path d="M0 23H95M0 46H95M28 46V69M76 46V69"/><text class="c" x="47.5" y="17">cvtermprop</text><text x="4" y="40">...</text><text x="3" y="63">&lt; 2</text><text class="r" x="73" y="63">0 rows</text></g>
<g id="cvtermsynonym" class="t" transform="translate(425 2319)"><rect class="w" width="111" height="69"/><rect class="h" width="111" height="23"/><path d="M0 23H111M0 46H111M36 46V69M89 46V69"/><text class="c" x="55.5" y="17">cvtermsynonym</text><text x="4" y="40">...</text><text x="3" y="63">&lt; 2</text><text class="r" x="86" y="63">0 rows</text></g>
<g id="stockprop" class="t" transform="translate(688 2424)"><rect class="w" width="106" height="69"/><rect class="h" width="106" height="23"/><path d="M0 23H106M0 46H106M29 46V69M78 46V69"/><text class="c" x="53" y="17">stockprop</text><text x="4" y="40">...</text><text x="3" y="63">&lt; 2</text><text class="r" x="75" y="63">0 rows</text><text class="r" x="103" y="63">1 &gt;</text></g>
<g id="stock" class="t" transform="translate(427 2525)"><rect class="w" width="106" height="69"/><rect class="h" width="106" height="23"/><path d="M0 23H106M0 46H106M29 46V69M78 46V69"/><text class="c" x="53" y="17">stock</text><text x="4" y="40">...</text><text x="3" y="63">&lt; 3</text><text class="r" x="75" y="63">0 rows</text><text class="r" x="103" y="63">9 &gt;</text></g>
<g id="stock_relationship" class="t" transform="translate(678 2525)"><rect class="w" width="125" height="69"/><rect class="h" width="125" height="23"/><path d="M0 23H125M0 46H125M39 46V69M94 46V69"/><text class="c" x="62.5" y="17">stock_relationship</text><text x="4" y="40">...</text><text x="3" y="63">&lt; 3</text><text class="r" x="91" y="63">0 rows</text><text class="r" x="122" y="63">2 &gt;</text></g>
<g id="elementresult_relationship" class="t" transform="translate(391 2620)"><rect class="w" width="178" height="69"/><rect class="h" width="178" height="23"/><path d="M0 23H178M0 46H178M69 46V69M142 46V69"/><text class="c" x="89" y="17">elementresult_relationship</text><text x="4" y="40">...</text><text x="3" y="63">&lt; 3</text><text class="r" x="139" y="63">0 rows</text></g>
<g id="environment_cvterm" class="t" transform="translate(411 2716)"><rect class="w" width="139" height="69"/><rect class="h" width="139" height="23"/><path d="M0 23H139M0 46H139M50 46V69M111 46V69"/><text class="c" x="69.5" y="17">environment_cvterm</text><text x="4" y="40">...</text><text x="3" y="63">&lt; 2</text><text class="r" x="108" y="63">0 rows</text></g>
<g id="stock_relationship_cvterm" class="t" transform="translate(912 2827)"><rect class="w" width="178" height="69"/><rect class="h" width="178" height="23"/><path d="M0 23H178M0 46H178M69 46V69M142 46V69"/><text class="c" x="89" y="17">stock_relationship_cvterm</text><text x="4" y="40">...</text><text x="3" y="63">&lt; 3</text><text class="r" x="139" y="63">0 rows</text></g>
<g id="expressionprop" class="t" transform="translate(427 2886)"><rect class="w" width="107" height="69"/><rect class="h" width="107" height="23"/><path d="M0 23H107M0 46H107M34 46V69M86 46V69"/><text class="c" x="53.5" y="17">expressionprop</text><text x="4" y="40">...</text><text x="3" y="63">&lt; 2</text><text class="r" x="83" y="63">0 rows</text></g>
<g id="feature_cvterm" class="t" transform="translate(688 2895)"><rect class="w" width="106" height="69"/><rect class="h" width="106" height="23"/><path d="M0 23H106M0 46H106M29 46V69M78 46V69"/><text class="c" x="53" y="17">feature_cvterm</text><text x="4" y="40">...</text><text x="3" y="63">&lt; 3</text><text class="r" x="75" y="63">0 rows</text><text class="r" x="103" y="63">3 &gt;</text></g>
<g id="feature_relationshipprop" class="t" transform="translate(918 2974)"><rect class="w" width="165" height="69"/><rect class="h" width="165" height="23"/><path d="M0 23H165M0 46H165M59 46V69M126 46V69"/><text class="c" x="82.5" y="17">feature_relationshipprop</text><text x="4" y="40">...</text><text x="3" y="63">&lt; 2</text><text class="r" x="123" y="63">0 rows</text><text class="r" x="162" y="63">1 &gt;</text></g>
<g id="phenotype_comparison_cvterm" class="t" transform="translate(636 2991)"><rect class="w" width="211" height="69"/><rect class="h" width="211" height="23"/><path d="M0 23H211M0 46H211M86 46V69M169 46V69"/><text class="c" x="105.5" y="17">phenotype_comparison_cvterm</text><text x="4" y="40">...</text><text x="3" y="63">&lt; 3</text><text class="r" x="166" y="63">0 rows</text></g>
<g id="feature_expressionprop" class="t" transform="translate(399 3019)"><rect class="w" width="162" height="69"/><rect class="h" width="162" height="23"/><path d="M0 23H162M0 46H162M61 46V69M130 46V69"/><text class="c" x="81" y="17">feature_expressionprop</text><text x="4" y="40">...</text><text x="3" y="63">&lt; 2</text><text class="r" x="127" y="63">0 rows</text></g>
<g id="feature_genotype" class="t" transform="translate(681 3087)"><rect class="w" width="121" height="69"/><rect class="h" width="121" height="23"/><path d="M0 23H121M0 46H121M41 46V69M97 46V69"/><text class="c" x="60.5" y="17">feature_genotype</text><text x="4" y="40">...</text><text x="3" y="63">&lt; 4</text><text class="r" x="94" y="63">0 rows</text></g>
<g id="synonym" class="t" transform="translate(427 3152)"><rect class="w" width="106" height="69"/><rect class="h" width="106" height="23"/><path d="M0 23H106M0 46H106M29 46V69M78 46V69"/><text class="c" x="53" y="17">synonym</text><text x="4" y="40">...</text><text x="3" y="63">&lt; 1</text><text class="r" x="75" y="63">0 rows</text><text class="r" x="103" y="63">3 &gt;</text></g>
<g id="feature_cvtermprop" class="t" transform="translate(934 3170)"><rect class="w" width="134" height="69"/><rect class="h" width="134" height="23"/><path d="M0 23H134M0 46H134M47 46V69M107 46V69"/><text class="c" x="67" y="17">feature_cvtermprop</text><text x="4" y="40">...</text><text x="3" y="63">&lt; 2</text><text class="r" x="104" y="63">0 rows</text></g>
<g id="pub_relationship" class="t" transform="translate(683 3183)"><rect class="w" width="115" height="69"/><rect class="h" width="115" height="23"/><path d="M0 23H115M0 46H115M38 46V69M92 46V69"/><text class="c" x="57.5" y="17">pub_relationship</text><text x="4" y="40">...</text><text x="3" y="63">&lt; 3</text><text class="r" x="89" y="63">0 rows</text></g>
<g id="cvterm" class="t" transform="translate(197 3202)"><rect class="w" width="129" height="205"/><rect class="h" width="129" height="23"/><rect class="pk" x="0.5" y="23" width="128" height="22.5"/><rect class="fk" x="0.5" y="45.5" width="128" height="45.5"/><rect class="fk" x="0.5" y="114" width="128" height="45"/><path d="M0 23H129M0 45.5H129M0 68H129M0 91H129M0 114H129M0 136.5H129M0 159H129M0 182H129M30 182V205M83 182V205M0 205H129"/><text class="c" x="64.5" y="17">cvterm</text><text x="3" y="40">cvterm_id</text><text x="3" y="62.5">cv_id</text><text x="3" y="85">name</text><text x="3" y="108">definition</text><text x="3" y="131">dbxref_id</text><text x="3" y="153.5">is_obsolete</text><text x="3" y="176">is_relationshiptype</text><text x="3" y="199">&lt; 2</text><text class="r" x="80" y="199">0 rows</text><text class="r" x="126" y="199">104 &gt;</text></g>
<g id="pub" class="t" transform="translate(422 3248)"><rect class="w" width="115" height="69"/><rect class="h" width="115" height="23"/><path d="M0 23H115M0 46H115M30 46V69M79 46V69"/><text class="c" x="57.5" y="17">pub</text><text x="4" y="40">...</text><text x="3" y="63">&lt; 1</text><text class="r" x="76" y="63">0 rows</text><text class="r" x="112" y="63">41 &gt;</text></g>
<g id="stock_cvterm" class="t" transform="translate(688 3316)"><rect class="w" width="106" height="69"/><rect class="h" width="106" height="23"/><path d="M0 23H106M0 46H106M29 46V69M78 46V69"/><text class="c" x="53" y="17">stock_cvterm</text><text x="4" y="40">...</text><text x="3" y="63">&lt; 3</text><text class="r" x="75" y="63">0 rows</text><text class="r" x="103" y="63">1 &gt;</text></g>
<g id="feature_pubprop" class="t" transform="translate(422 3381)"><rect class="w" width="115" height="69"/><rect class="h" width="115" height="23"/><path d="M0 23H115M0 46H115M38 46V69M92 46V69"/><text class="c" x="57.5" y="17">feature_pubprop</text><text x="4" y="40">...</text><text x="3" y="63">&lt; 2</text><text class="r" x="89" y="63">0 rows</text></g>
<g id="pubprop" class="t" transform="translate(694 3412)"><rect class="w" width="94" height="69"/><rect class="h" width="94" height="23"/><path d="M0 23H94M0 46H94M28 46V69M76 46V69"/><text class="c" x="47" y="17">pubprop</text><text x="4" y="40">...</text><text x="3" y="63">&lt; 2</text><text class="r" x="73" y="63">0 rows</text></g>
<g id="featuremap" class="t" transform="translate(427 3515)"><rect class="w" width="106" height="69"/><rect class="h" width="106" height="23"/><path d="M0 23H106M0 46H106M29 46V69M78 46V69"/><text class="c" x="53" y="17">featuremap</text><text x="4" y="40">...</text><text x="3" y="63">&lt; 1</text><text class="r" x="75" y="63">0 rows</text><text class="r" x="103" y="63">3 &gt;</text></g>
<g id="library_cvterm" class="t" transform="translate(691 3546)"><rect class="w" width="100" height="69"/><rect class="h" width="100" height="23"/><path d="M0 23H100M0 46H100M30 46V69M80 46V69"/><text class="c" x="50" y="17">library_cvterm</text><text x="4" y="40">...</text><text x="3" y="63">&lt; 3</text><text class="r" x="77" y="63">0 rows</text></g>
<g id="stock_cvtermprop" class="t" transform="translate(939 3587)"><rect class="w" width="123" height="69"/><rect class="h" width="123" height="23"/><path d="M0 23H123M0 46H123M42 46V69M98 46V69"/><text class="c" x="61.5" y="17">stock_cvtermprop</text><text x="4" y="40">...</text><text x="3" y="63">&lt; 2</text><text class="r" x="95" y="63">0 rows</text></g>
<g id="control" class="t" transform="translate(1477 3637)"><rect class="w" width="94" height="69"/><rect class="h" width="94" height="23"/><path d="M0 23H94M0 46H94M28 46V69M76 46V69"/><text class="c" x="47" y="17">control</text><text x="4" y="40">...</text><text x="3" y="63">&lt; 3</text><text class="r" x="73" y="63">0 rows</text></g>
<g id="phendesc" class="t" transform="translate(694 3688)"><rect class="w" width="94" height="69"/><rect class="h" width="94" height="23"/><path d="M0 23H94M0 46H94M28 46V69M76 46V69"/><text class="c" x="47" y="17">phendesc</text><text x="4" y="40">...</text><text x="3" y="63">&lt; 4</text><text class="r" x="73" y="63">0 rows</text></g>
<g id="genotype" class="t" transform="translate(427 3756)"><rect class="w" width="106" height="69"/><rect class="h" width="106" height="23"/><path d="M0 23H106M0 46H106M29 46V69M78 46V69"/><text class="c" x="53" y="17">genotype</text><text x="4" y="40">...</text><text x="3" y="63">&lt; 1</text><text class="r" x="75" y="63">0 rows</text><text class="r" x="103" y="63">8 &gt;</text></g>
<g id="phenstatement" class="t" transform="translate(689 3788)"><rect class="w" width="103" height="69"/><rect class="h" width="103" height="23"/><path d="M0 23H103M0 46H103M32 46V69M82 46V69"/><text class="c" x="51.5" y="17">phenstatement</text><text x="4" y="40">...</text><text x="3" y="63">&lt; 5</text><text class="r" x="79" y="63">0 rows</text></g>
<g id="library" class="t" transform="translate(427 3890)"><rect class="w" width="106" height="69"/><rect class="h" width="106" height="23"/><path d="M0 23H106M0 46H106M29 46V69M78 46V69"/><text class="c" x="53" y="17">library</text><text x="4" y="40">...</text><text x="3" y="63">&lt; 2</text><text class="r" x="75" y="63">0 rows</text><text class="r" x="103" y="63">7 &gt;</text></g>
<g id="genotypeprop" class="t" transform="translate(693 3926)"><rect class="w" width="97" height="69"/><rect class="h" width="97" height="23"/><path d="M0 23H97M0 46H97M29 46V69M78 46V69"/><text class="c" x="48.5" y="17">genotypeprop</text><text x="4" y="40">...</text><text x="3" y="63">&lt; 2</text><text class="r" x="75" y="63">0 rows</text></g>
<g id="protocolparam" class="t" transform="translate(950 3999)"><rect class="w" width="101" height="69"/><rect class="h" width="101" height="23"/><path d="M0 23H101M0 46H101M31 46V69M81 46V69"/><text class="c" x="50.5" y="17">protocolparam</text><text x="4" y="40">...</text><text x="3" y="63">&lt; 3</text><text class="r" x="78" y="63">0 rows</text></g>
<g id="nd_geolocationprop" class="t" transform="translate(412 4075)"><rect class="w" width="136" height="69"/><rect class="h" width="136" height="23"/><path d="M0 23H136M0 46H136M48 46V69M109 46V69"/><text class="c" x="68" y="17">nd_geolocationprop</text><text x="4" y="40">...</text><text x="3" y="63">&lt; 2</text><text class="r" x="106" y="63">0 rows</text></g>
<g id="libraryprop" class="t" transform="translate(688 4075)"><rect class="w" width="106" height="69"/><rect class="h" width="106" height="23"/><path d="M0 23H106M0 46H106M29 46V69M78 46V69"/><text class="c" x="53" y="17">libraryprop</text><text x="4" y="40">...</text><text x="3" y="63">&lt; 2</text><text class="r" x="75" y="63">0 rows</text><text class="r" x="103" y="63">1 &gt;</text></g>
<g id="protocol" class="t" transform="translate(688 4171)"><rect class="w" width="106" height="69"/><rect class="h" width="106" height="23"/><path d="M0 23H106M0 46H106M29 46V69M78 46V69"/><text class="c" x="53" y="17">protocol</text><text x="4" y="40">...</text><text x="3" y="63">&lt; 3</text><text class="r" x="75" y="63">0 rows</text><text class="r" x="103" y="63">6 &gt;</text></g>
<g id="phenotype" class="t" transform="translate(427 4208)"><rect class="w" width="106" height="69"/><rect class="h" width="106" height="23"/><path d="M0 23H106M0 46H106M29 46V69M78 46V69"/><text class="c" x="53" y="17">phenotype</text><text x="4" y="40">...</text><text x="3" y="63">&lt; 4</text><text class="r" x="75" y="63">0 rows</text><text class="r" x="103" y="63">6 &gt;</text></g>
<g id="phenotype_cvterm" class="t" transform="translate(677 4274)"><rect class="w" width="127" height="69"/><rect class="h" width="127" height="23"/><path d="M0 23H127M0 46H127M44 46V69M102 46V69"/><text class="c" x="63.5" y="17">phenotype_cvterm</text><text x="4" y="40">...</text><text x="3" y="63">&lt; 2</text><text class="r" x="99" y="63">0 rows</text></g>
<g id="organismprop" class="t" transform="translate(433 4414)"><rect class="w" width="96" height="69"/><rect class="h" width="96" height="23"/><path d="M0 23H96M0 46H96M28 46V69M77 46V69"/><text class="c" x="48" y="17">organismprop</text><text x="4" y="40">...</text><text x="3" y="63">&lt; 2</text><text class="r" x="74" y="63">0 rows</text></g>
<g id="expression_cvterm" class="t" transform="translate(414 4583)"><rect class="w" width="131" height="69"/><rect class="h" width="131" height="23"/><path d="M0 23H131M0 46H131M42 46V69M98 46V69"/><text class="c" x="65.5" y="17">expression_cvterm</text><text x="4" y="40">...</text><text x="3" y="63">&lt; 3</text><text class="r" x="95" y="63">0 rows</text><text class="r" x="128" y="63">1 &gt;</text></g>
<g id="expression_cvtermprop" class="t" transform="translate(661 4588)"><rect class="w" width="159" height="69"/><rect class="h" width="159" height="23"/><path d="M0 23H159M0 46H159M60 46V69M127 46V69"/><text class="c" x="79.5" y="17">expression_cvtermprop</text><text x="4" y="40">...</text><text x="3" y="63">&lt; 2</text><text class="r" x="124" y="63">0 rows</text></g>
<g id="treatment" class="t" transform="translate(947 4659)"><rect class="w" width="107" height="69"/><rect class="h" width="107" height="23"/><path d="M0 23H107M0 46H107M30 46V69M79 46V69"/><text class="c" x="53.5" y="17">treatment</text><text x="4" y="40">...</text><text x="3" y="63">&lt; 3</text><text class="r" x="76" y="63">0 rows</text><text class="r" x="104" y="63">1 &gt;</text></g>
<g id="nd_experiment_stock" class="t" transform="translate(667 4727)"><rect class="w" width="147" height="69"/><rect class="h" width="147" height="23"/><path d="M0 23H147M0 46H147M50 46V69M111 46V69"/><text class="c" x="73.5" y="17">nd_experiment_stock</text><text x="4" y="40">...</text><text x="3" y="63">&lt; 3</text><text class="r" x="108" y="63">0 rows</text><text class="r" x="144" y="63">2 &gt;</text></g>
<g id="biomaterial_treatment" class="t" transform="translate(1196 4744)"><rect class="w" width="149" height="69"/><rect class="h" width="149" height="23"/><path d="M0 23H149M0 46H149M55 46V69M119 46V69"/><text class="c" x="74.5" y="17">biomaterial_treatment</text><text x="4" y="40">...</text><text x="3" y="63">&lt; 3</text><text class="r" x="116" y="63">0 rows</text></g>
<g id="nd_experiment_stockprop" class="t" transform="translate(912 4759)"><rect class="w" width="177" height="69"/><rect class="h" width="177" height="23"/><path d="M0 23H177M0 46H177M69 46V69M142 46V69"/><text class="c" x="88.5" y="17">nd_experiment_stockprop</text><text x="4" y="40">...</text><text x="3" y="63">&lt; 2</text><text class="r" x="139" y="63">0 rows</text></g>
<g id="nd_experiment" class="t" transform="translate(427 4896)"><rect class="w" width="106" height="69"/><rect class="h" width="106" height="23"/><path d="M0 23H106M0 46H106M29 46V69M78 46V69"/><text class="c" x="53" y="17">nd_experiment</text><text x="4" y="40">...</text><text x="3" y="63">&lt; 2</text><text class="r" x="75" y="63">0 rows</text><text class="r" x="103" y="63">9 &gt;</text></g>
<g id="project_relationship" class="t" transform="translate(413 4992)"><rect class="w" width="135" height="69"/><rect class="h" width="135" height="23"/><path d="M0 23H135M0 46H135M48 46V69M108 46V69"/><text class="c" x="67.5" y="17">project_relationship</text><text x="4" y="40">...</text><text x="3" y="63">&lt; 3</text><text class="r" x="105" y="63">0 rows</text></g>
<g id="nd_experimentprop" class="t" transform="translate(673 4995)"><rect class="w" width="134" height="69"/><rect class="h" width="134" height="23"/><path d="M0 23H134M0 46H134M47 46V69M107 46V69"/><text class="c" x="67" y="17">nd_experimentprop</text><text x="4" y="40">...</text><text x="3" y="63">&lt; 2</text><text class="r" x="104" y="63">0 rows</text></g>
<g id="projectprop" class="t" transform="translate(433 5088)"><rect class="w" width="95" height="69"/><rect class="h" width="95" height="23"/><path d="M0 23H95M0 46H95M28 46V69M76 46V69"/><text class="c" x="47.5" y="17">projectprop</text><text x="4" y="40">...</text><text x="3" y="63">&lt; 2</text><text class="r" x="73" y="63">0 rows</text></g>
<g id="nd_protocol_reagent" class="t" transform="translate(670 5191)"><rect class="w" width="141" height="69"/><rect class="h" width="141" height="23"/><path d="M0 23H141M0 46H141M51 46V69M113 46V69"/><text class="c" x="70.5" y="17">nd_protocol_reagent</text><text x="4" y="40">...</text><text x="3" y="63">&lt; 3</text><text class="r" x="110" y="63">0 rows</text></g>
<g id="nd_protocol" class="t" transform="translate(427 5222)"><rect class="w" width="106" height="69"/><rect class="h" width="106" height="23"/><path d="M0 23H106M0 46H106M29 46V69M78 46V69"/><text class="c" x="53" y="17">nd_protocol</text><text x="4" y="40">...</text><text x="3" y="63">&lt; 1</text><text class="r" x="75" y="63">0 rows</text><text class="r" x="103" y="63">3 &gt;</text></g>
<g id="nd_protocolprop" class="t" transform="translate(685 5287)"><rect class="w" width="113" height="69"/><rect class="h" width="113" height="23"/><path d="M0 23H113M0 46H113M37 46V69M90 46V69"/><text class="c" x="56.5" y="17">nd_protocolprop</text><text x="4" y="40">...</text><text x="3" y="63">&lt; 2</text><text class="r" x="87" y="63">0 rows</text></g>
<g id="quantification_relationship" class="t" transform="translate(392 5355)"><rect class="w" width="177" height="69"/><rect class="h" width="177" height="23"/><path d="M0 23H177M0 46H177M69 46V69M142 46V69"/><text class="c" x="88.5" y="17">quantification_relationship</text><text x="4" y="40">...</text><text x="3" y="63">&lt; 3</text><text class="r" x="139" y="63">0 rows</text></g>
<g id="quantificationprop" class="t" transform="translate(419 5451)"><rect class="w" width="122" height="69"/><rect class="h" width="122" height="23"/><path d="M0 23H122M0 46H122M41 46V69M98 46V69"/><text class="c" x="61" y="17">quantificationprop</text><text x="4" y="40">...</text><text x="3" y="63">&lt; 2</text><text class="r" x="95" y="63">0 rows</text></g>
<g id="nd_reagent" class="t" transform="translate(427 5584)"><rect class="w" width="106" height="69"/><rect class="h" width="106" height="23"/><path d="M0 23H106M0 46H106M29 46V69M78 46V69"/><text class="c" x="53" y="17">nd_reagent</text><text x="4" y="40">...</text><text x="3" y="63">&lt; 1</text><text class="r" x="75" y="63">0 rows</text><text class="r" x="103" y="63">4 &gt;</text></g>
<g id="nd_reagent_relationship" class="t" transform="translate(658 5584)"><rect class="w" width="165" height="69"/><rect class="h" width="165" height="23"/><path d="M0 23H165M0 46H165M63 46V69M132 46V69"/><text class="c" x="82.5" y="17">nd_reagent_relationship</text><text x="4" y="40">...</text><text x="3" y="63">&lt; 3</text><text class="r" x="129" y="63">0 rows</text></g>
<g id="stock_dbxrefprop" class="t" transform="translate(420 5680)"><rect class="w" width="120" height="69"/><rect class="h" width="120" height="23"/><path d="M0 23H120M0 46H120M40 46V69M96 46V69"/><text class="c" x="60" y="17">stock_dbxrefprop</text><text x="4" y="40">...</text><text x="3" y="63">&lt; 2</text><text class="r" x="93" y="63">0 rows</text></g>
<g id="nd_reagentprop" class="t" transform="translate(686 5716)"><rect class="w" width="110" height="69"/><rect class="h" width="110" height="23"/><path d="M0 23H110M0 46H110M35 46V69M88 46V69"/><text class="c" x="55" y="17">nd_reagentprop</text><text x="4" y="40">...</text><text x="3" y="63">&lt; 2</text><text class="r" x="85" y="63">0 rows</text></g>
<g id="cv" class="t" transform="translate(26 5885)"><rect class="w" width="95" height="69"/><rect class="h" width="95" height="23"/><path d="M0 23H95M0 46H95M17 46V69M66 46V69"/><text class="c" x="47.5" y="17">cv</text><text x="4" y="40">...</text><text class="r" x="63" y="63">0 rows</text><text class="r" x="92" y="63">3 &gt;</text></g>
<g id="cvtermpath" class="t" transform="translate(433 5885)"><rect class="w" width="95" height="69"/><rect class="h" width="95" height="23"/><path d="M0 23H95M0 46H95M28 46V69M76 46V69"/><text class="c" x="47.5" y="17">cvtermpath</text><text x="4" y="40">...</text><text x="3" y="63">&lt; 4</text><text class="r" x="73" y="63">0 rows</text></g>
<g id="cvprop" class="t" transform="translate(433 5982)"><rect class="w" width="95" height="69"/><rect class="h" width="95" height="23"/><path d="M0 23H95M0 46H95M28 46V69M76 46V69"/><text class="c" x="47.5" y="17">cvprop</text><text x="4" y="40">...</text><text x="3" y="63">&lt; 2</text><text class="r" x="73" y="63">0 rows</text></g>
<text x="15" y="6091">Generated by SchemaSpy</text>
</svg>
